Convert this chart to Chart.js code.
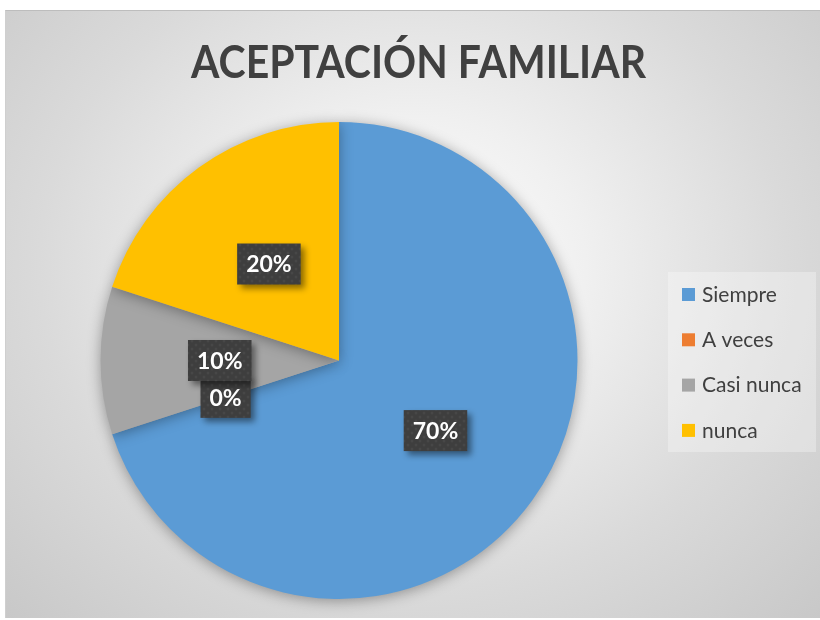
<!DOCTYPE html>
<html>
<head>
<meta charset="utf-8">
<script src="https://cdn.jsdelivr.net/npm/chart.js@4/dist/chart.umd.min.js"></script>
<style>
  html, body { margin: 0; padding: 0; background: #ffffff; }
  #frame {
    position: absolute; left: 5px; top: 10px; width: 815px; height: 608px;
    background: radial-gradient(ellipse farthest-corner at 50% 42%, #ffffff 0%, #f0f0f0 30%, #dadada 65%, #c8c8c8 100%);
    border-top: 1px solid #bdbdbd; border-left: 1px solid #cfcfcf;
    box-sizing: border-box;
  }
  #grafico { display: block; }
</style>
</head>
<body>
<div id="frame"><canvas id="grafico" width="814" height="607"></canvas></div>
<script>
const titulo = 'ACEPTACIÓN FAMILIAR';
const categorias = ['Siempre', 'A veces', 'Casi nunca', 'nunca'];
const valores = [70, 0, 10, 20];
const etiquetas = ['70%', '0%', '10%', '20%'];
const colores = ['#5B9BD5', '#ED7D31', '#A5A5A5', '#FFC000'];

// patron de puntos para las cajas de etiquetas
function crearPatron(ctx) {
  const c = document.createElement('canvas');
  c.width = 8; c.height = 8;
  const p = c.getContext('2d');
  p.fillStyle = '#3e3e3e';
  p.fillRect(0, 0, 8, 8);
  p.fillStyle = '#474747';
  p.beginPath(); p.arc(2, 2, 1.5, 0, Math.PI * 2); p.fill();
  p.beginPath(); p.arc(6, 6, 1.5, 0, Math.PI * 2); p.fill();
  return ctx.createPattern(c, 'repeat');
}

const sombraPastel = {
  id: 'sombraPastel',
  beforeDatasetsDraw(chart) {
    const ctx = chart.ctx;
    ctx.save();
    ctx.shadowColor = 'rgba(0,0,0,0.35)';
    ctx.shadowBlur = 14;
    ctx.shadowOffsetX = 0;
    ctx.shadowOffsetY = 2;
  },
  afterDatasetsDraw(chart) {
    chart.ctx.restore();
  }
};

const extras = {
  id: 'extras',
  afterDraw(chart) {
    const ctx = chart.ctx;

    // titulo
    ctx.save();
    ctx.font = 'bold 46px Lato';
    ctx.fillStyle = '#404040';
    ctx.textAlign = 'center';
    ctx.textBaseline = 'alphabetic';
    const w = ctx.measureText(titulo).width;
    const sx = 455 / w;
    ctx.translate(412.5, 67);
    ctx.scale(sx, 1);
    ctx.fillText(titulo, 0, 0);
    ctx.restore();

    // etiquetas de datos
    const patron = crearPatron(ctx);
    const meta = chart.getDatasetMeta(0);
    ctx.save();
    ctx.font = 'bold 23px Lato';
    meta.data.forEach((arc, i) => {
      const pos = arc.getCenterPoint();
      const texto = etiquetas[i];
      const tw = ctx.measureText(texto).width;
      const bw = tw + 18, bh = 41;
      const x = pos.x - bw / 2, y = pos.y - bh / 2;
      ctx.save();
      ctx.shadowColor = 'rgba(0,0,0,0.45)';
      ctx.shadowBlur = 6;
      ctx.shadowOffsetX = 4;
      ctx.shadowOffsetY = 4;
      ctx.fillStyle = patron;
      ctx.fillRect(x, y, bw, bh);
      ctx.restore();
      ctx.fillStyle = '#ffffff';
      ctx.textAlign = 'center';
      ctx.textBaseline = 'middle';
      ctx.fillText(texto, pos.x, pos.y + 1);
    });
    ctx.restore();

    // leyenda
    ctx.save();
    ctx.fillStyle = 'rgba(255,255,255,0.3)';
    ctx.fillRect(662, 261, 148, 180);
    ctx.font = '21px Lato';
    ctx.textBaseline = 'middle';
    categorias.forEach((cat, i) => {
      const cy = 283 + i * 45.3;
      ctx.fillStyle = colores[i];
      ctx.fillRect(676, cy - 6, 13, 13);
      ctx.fillStyle = '#404040';
      ctx.fillText(cat, 696, cy + 1);
    });
    ctx.restore();
  }
};

new Chart(document.getElementById('grafico'), {
  type: 'pie',
  data: {
    labels: categorias,
    datasets: [{
      data: valores,
      backgroundColor: colores,
      borderWidth: 0
    }]
  },
  options: {
    responsive: false,
    animation: false,
    layout: { padding: { top: 111, bottom: 19, left: 0, right: 148 } },
    plugins: {
      legend: { display: false },
      title: { display: false },
      tooltip: { enabled: false }
    }
  },
  plugins: [sombraPastel, extras]
});
</script>
</body>
</html>
